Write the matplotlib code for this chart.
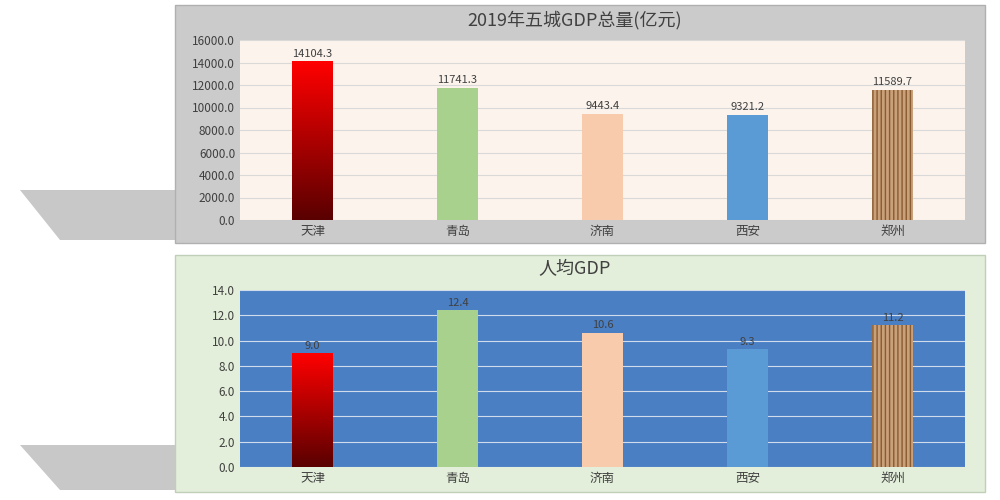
import matplotlib
matplotlib.use("Agg")
import matplotlib.pyplot as plt
from matplotlib import font_manager as fm
import numpy as np
from matplotlib.patches import Rectangle, Polygon
from matplotlib.colors import LinearSegmentedColormap

cjk = [f.name for f in fm.fontManager.ttflist if "CJK" in f.name]
fam = "Noto Sans CJK SC" if "Noto Sans CJK SC" in cjk else (cjk[0] if cjk else "DejaVu Sans")
plt.rcParams['font.family'] = [fam, 'DejaVu Sans']

cities = ["天津", "青岛", "济南", "西安", "郑州"]
gdp_total = [14104.3, 11741.3, 9443.4, 9321.2, 11589.7]
gdp_per = [9.0, 12.4, 10.6, 9.3, 11.2]
top_ticks = [0, 2000, 4000, 6000, 8000, 10000, 12000, 14000, 16000]
bot_ticks = [0, 2, 4, 6, 8, 10, 12, 14]

colors = ["#c00000", "#a9d18e", "#f8cbad", "#5b9bd5", "#c8a07a"]

fig = plt.figure(figsize=(10, 5), dpi=100)
fig.patch.set_facecolor("white")

def addp(p):
    p.set_zorder(-5)
    fig.patches.append(p)

addp(Polygon([(0.02, 0.62), (0.175, 0.62), (0.175, 0.52), (0.06, 0.52)],
             transform=fig.transFigure, facecolor="#c8c8c8", edgecolor="none"))
addp(Polygon([(0.02, 0.11), (0.175, 0.11), (0.175, 0.02), (0.06, 0.02)],
             transform=fig.transFigure, facecolor="#c8c8c8", edgecolor="none"))
addp(Rectangle((0.175, 0.514), 0.81, 0.476, transform=fig.transFigure,
               facecolor="#cbcbcb", edgecolor="#b0b0b0"))
addp(Rectangle((0.175, 0.016), 0.81, 0.474, transform=fig.transFigure,
               facecolor="#e3efda", edgecolor="#c0d0b8"))

fig.text(0.575, 0.96, "2019年五城GDP总量(亿元)", ha="center", va="center", fontsize=13, color="#404040")
fig.text(0.575, 0.462, "人均GDP", ha="center", va="center", fontsize=13, color="#404040")

grad = LinearSegmentedColormap.from_list("g", ["#5a0000", "#ff0000"])

def draw(ax, vals, ticks, bg, gridc):
    ax.set_facecolor(bg)
    x = np.arange(len(cities))
    bars = ax.bar(x, vals, width=0.28, color=colors, zorder=3, edgecolor="none")
    bars[4].set_hatch("||||")
    bars[4].set_edgecolor("#8a5a30")
    bars[4].set_linewidth(0)
    b = bars[0]
    im = ax.imshow(np.linspace(0, 1, 100).reshape(-1, 1), cmap=grad, origin="lower",
                   extent=[b.get_x(), b.get_x() + b.get_width(), 0, b.get_height()],
                   aspect="auto", zorder=4)
    im.set_clip_path(b)
    ax.set_xlim(-0.5, 4.5)
    ax.set_ylim(ticks[0], ticks[-1])
    ax.set_yticks(ticks)
    ax.set_yticklabels([f"{t:.1f}" for t in ticks], fontsize=8.5, color="#404040")
    ax.set_xticks(x)
    ax.set_xticklabels(cities, fontsize=9, color="#404040")
    ax.grid(axis="y", color=gridc, lw=0.8, zorder=1)
    for s in ax.spines.values():
        s.set_visible(False)
    ax.tick_params(length=0)
    for xi, v in zip(x, vals):
        ax.text(xi, v + ticks[-1] * 0.015, f"{v:.1f}", ha="center", va="bottom",
                fontsize=8, color="#404040", zorder=5)

ax1 = fig.add_axes([0.24, 0.56, 0.725, 0.36])
draw(ax1, gdp_total, top_ticks, "#fbf3ec", "#d9d9d9")
ax2 = fig.add_axes([0.24, 0.066, 0.725, 0.354])
draw(ax2, gdp_per, bot_ticks, "#4a7fc4", "#d0dcec")

fig.savefig("out.png", dpi=100)
